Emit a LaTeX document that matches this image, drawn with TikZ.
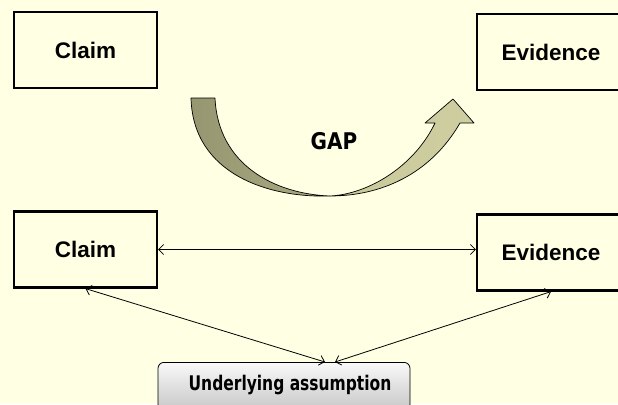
\documentclass[tikz,border=0pt]{standalone}
\usepackage{fontspec}
\setmainfont{Liberation Sans}
\newfontfamily\gapfont{DejaVu Sans}
\usetikzlibrary{arrows.meta,calc}
\definecolor{bgyellow}{RGB}{255,255,228}
\definecolor{olivedark}{RGB}{150,150,112}
\definecolor{olivemid}{RGB}{175,175,135}
\definecolor{olivelight}{RGB}{206,206,160}
\tikzset{
  box/.style={draw=black,line width=2.2pt,minimum width=143pt,minimum height=76pt,
    inner sep=0pt,font=\fontsize{22.5}{24}\selectfont\bfseries},
  link/.style={line width=0.8pt,{Straight Barb[length=5pt,width=10pt]}-{Straight Barb[length=5pt,width=10pt]}},
  band/.style={draw=black,line width=0.7pt,line join=round}
}
\begin{document}
\begin{tikzpicture}[x=1pt,y=-1pt]
\fill[bgyellow] (0,0) rectangle (618,404);
\useasboundingbox (0,0) rectangle (618,404);

\node[box] (c1) at (85.5,50) {Claim};
\node[box,minimum width=148pt] (e1) at (551,52) {Evidence};
\node[box] (c2) at (85.5,249.5) {Claim};
\node[box,minimum width=148pt] (e2) at (551,252.5) {Evidence};

\node[draw=black,line width=0.8pt,rounded corners=6pt,minimum width=252pt,minimum height=48pt,
  top color=white!95!gray,bottom color=black!22,anchor=north,inner sep=0pt] (u) at (284,362) {};
\node[font=\gapfont\fontsize{15.5}{17}\selectfont\bfseries] (ut) at (290,385)
  {\scalebox{1}[1.3]{Underlying assumption}};

% curved arrow: left (back) band
\path[band,left color=olivedark,right color=olivemid!80!olivedark]
  (191,98) -- (215,98)
  .. controls (218,165) and (275,194) .. (330,196)
  .. controls (270,198) and (193,175) .. cycle;
% right (front) band with head
\path[band,left color=olivelight!90!olivedark,right color=olivelight]
  (330,196)
  .. controls (380,196) and (430,175) .. (460,123)
  -- (474,123) -- (453,99) -- (425,123) -- (435,123)
  .. controls (415,165) and (370,194) .. (330,196) -- cycle;
\node[font=\gapfont\fontsize{20}{22}\selectfont\bfseries] (gap) at (334,141)
  {\scalebox{1}[1.15]{GAP}};

\draw[link] (c2.east) -- (c2.east -| e2.west);
\draw[link] (c2.south) -- ([xshift=41pt]u.north);
\draw[link] ([xshift=51pt]u.north) -- (e2.south);
\end{tikzpicture}
\end{document}
